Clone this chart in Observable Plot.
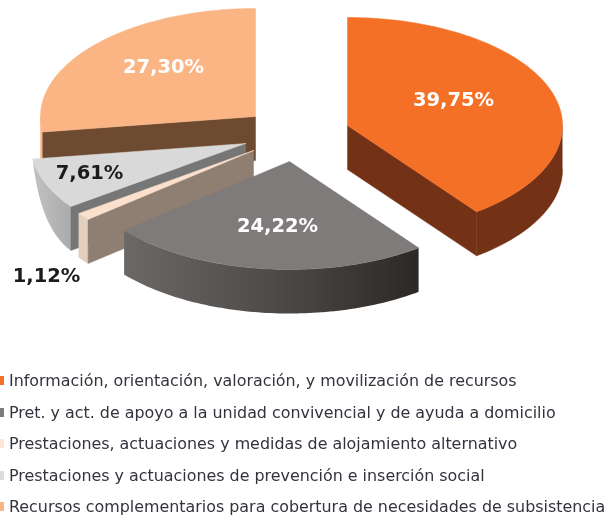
<!DOCTYPE html>
<html lang="es">
<head>
<meta charset="utf-8">
<script src="https://cdn.jsdelivr.net/npm/d3@7"></script>
<script src="https://cdn.jsdelivr.net/npm/@observablehq/plot@0.6"></script>
<style>
  html, body { margin: 0; padding: 0; background: #fff; }
  body { filter: blur(0.45px); }
  #chart svg { display: block; }
  #legend { font: 15.9px "DejaVu Sans", sans-serif; color: #33333d; padding-top: 5px; }
  .row { height: 31.5px; line-height: 31.5px; white-space: nowrap; position: relative; padding-left: 9px; }
  .sw { position: absolute; left: 0; top: 11px; width: 4px; height: 9px; }
</style>
</head>
<body>
<div id="chart"></div>
<div id="legend"></div>
<script>
// Data
const categories = [
  "Información, orientación, valoración, y movilización de recursos",
  "Pret. y act. de apoyo a la unidad convivencial y de ayuda a domicilio",
  "Prestaciones, actuaciones y medidas de alojamiento alternativo",
  "Prestaciones y actuaciones de prevención e inserción social",
  "Recursos complementarios para cobertura de necesidades de subsistencia"
];
const values = [39.75, 24.22, 1.12, 7.61, 27.30];
const valueLabels = ["39,75%", "24,22%", "1,12%", "7,61%", "27,30%"];

// Styles
const topColors = ["#f47026", "#7f7b7a", "#fbe0cd", "#d9d9d9", "#fbb584"];
const legendColors = ["#f47026", "#7f7b7a", "#fde4d5", "#dcdcdc", "#fbb584"];
const sideColors = ["#733216", "#8f7e72", "#8f7e72", "#767676", "#6d4a30"];
const rimColors = ["#733216", "url(#rimGray)", "#e3cfbd", "url(#rimLight)", "#fbb584"];
const labelColors = ["#ffffff", "#ffffff", "#1c1c1c", "#1c1c1c", "#ffffff"];

// Layout of the exploded tilted pie
const apexX = [347, 289, 253, 245, 255];
const apexY = [125, 161, 150, 143, 116];
const labelX = [453, 277, 46, 89, 163];
const labelY = [99, 225, 275, 172, 66];
const rx = 215, ry = 108, depth = 44;

const total = d3.sum(values);
let acc = 0;
const slices = values.map((v, i) => {
  const a0 = acc / total * 2 * Math.PI;
  acc += v;
  const a1 = acc / total * 2 * Math.PI;
  return {i, a0, a1, cx: apexX[i], cy: apexY[i]};
});
const pt = (s, a, dz = 0) => ({x: s.cx + rx * Math.sin(a), y: s.cy - ry * Math.cos(a) + dz});
const arc = (s, a0, a1, dz = () => 0) => {
  const n = Math.max(2, Math.ceil(Math.abs(a1 - a0) / 0.02));
  return d3.range(n + 1).map(k => {
    const a = a0 + (a1 - a0) * k / n;
    return pt(s, a, dz(a));
  });
};
const apex = (s, dz = 0) => ({x: s.cx, y: s.cy + dz});

const topFace = s => [apex(s), ...arc(s, s.a0, s.a1), apex(s)];
const rimFace = s => {
  // only the part of the rim facing the viewer
  const a0 = Math.max(s.a0, Math.PI / 2), a1 = Math.min(s.a1, 3 * Math.PI / 2);
  if (a1 <= a0) return [];
  // the light grey slice's wall tapers off towards its far end in the reference
  const dz = s.i === 3
    ? a => depth * (1 - ((a - a0) / (a1 - a0)) ** 2)
    : () => depth;
  return [...arc(s, a0, a1), ...arc(s, a1, a0, dz)];
};
const edgeFace = (s, a) => [apex(s), pt(s, a), pt(s, a, depth), apex(s, depth), apex(s)];

const poly = (pts, fill) => Plot.line(pts, {
  x: "x", y: "y", fill,
  stroke: fill.startsWith("url") ? "none" : fill,
  strokeWidth: fill.startsWith("url") ? 0 : 0.5,
  curve: "linear"
});

const defs = () => {
  const d = d3.create("svg:defs");
  const grad = (id, stops) => {
    const g = d.append("linearGradient").attr("id", id);
    stops.forEach(([o, c]) => g.append("stop").attr("offset", o).attr("stop-color", c));
  };
  grad("rimGray", [[0, "#6c6867"], [0.5, "#4f4b49"], [1, "#2c2826"]]);
  grad("rimLight", [[0, "#c2c2c2"], [1, "#ababab"]]);
  return d.node();
};

// Painter's order: back slices first
const order = [4, 3, 2, 1, 0];
const marks = [defs];
for (const i of order) {
  const s = slices[i];
  // The rim is drawn first, so that the flat edge overlaps it where the two meet
  marks.push(poly(rimFace(s), rimColors[i]));
  if (i === 0) marks.push(poly(edgeFace(s, s.a1), sideColors[i]));
  if (i === 2 || i === 3 || i === 4) marks.push(poly(edgeFace(s, s.a0), sideColors[i]));
  marks.push(poly(topFace(s), topColors[i]));
}
marks.push(Plot.text(values.map((v, i) => i), {
  x: i => labelX[i],
  y: i => labelY[i],
  text: i => valueLabels[i],
  fill: i => labelColors[i],
  fontSize: 19.5,
  fontWeight: "bold",
  fontFamily: "DejaVu Sans"
}));

const chart = Plot.plot({
  width: 608,
  height: 360,
  margin: 0,
  x: {domain: [0, 608], range: [0, 608], axis: null},
  y: {domain: [0, 360], range: [0, 360], axis: null},
  color: {type: "identity"},
  marks
});
document.getElementById("chart").append(chart);

const legend = d3.select("#legend");
categories.forEach((c, i) => {
  const row = legend.append("div").attr("class", "row");
  row.append("span").attr("class", "sw").style("background", legendColors[i]);
  row.append("span").text(c);
});
</script>
</body>
</html>
